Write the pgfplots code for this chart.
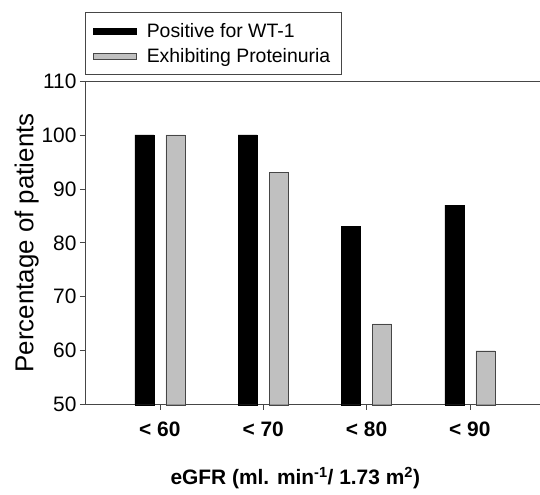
\documentclass[border=0pt]{standalone}
\usepackage{pgfplots}
\pgfplotsset{compat=1.18}
\usepackage{fontspec}
\setmainfont{Liberation Sans}
\definecolor{barGray}{RGB}{192,192,192}
\definecolor{axGray}{RGB}{70,70,70}
\begin{document}
\begin{tikzpicture}
\begin{axis}[
  width=455bp, height=324bp, scale only axis,
  xmin=-0.725, xmax=3.675, ymin=50, ymax=110,
  ybar=12bp, bar width=19bp,
  axis x line*=bottom, axis y line*=left,
  axis line style={axGray, line width=0.8pt},
  tick style={axGray, line width=0.7pt},
  tick align=outside, major tick length=5bp,
  xtick={0,1,2,3},
  xticklabels={< 60, < 70, < 80, < 90},
  ytick={50,60,...,110},
  x tick label style={font=\fontsize{21}{24}\selectfont\bfseries, yshift=-9bp},
  y tick label style={font=\fontsize{21}{24}\selectfont},
  /pgf/number format/assume math mode=true,
  xlabel={eGFR (ml. min\textsuperscript{-1}/ 1.73 m\textsuperscript{2})},
  xlabel style={font=\fontsize{21}{24}\selectfont\bfseries, xshift=-17bp, yshift=-23bp},
  ylabel={Percentage of patients},
  ylabel style={font=\fontsize{26}{30}\selectfont, yshift=-4bp},
  legend style={at={(rel axis cs:0,1)}, anchor=south west, yshift=6bp,
    draw=axGray, line width=0.6pt, font=\fontsize{19.5}{23}\selectfont,
    inner xsep=8bp, inner ysep=9bp, row sep=5bp, column sep=7bp,
    nodes={inner xsep=3bp}},
  legend cell align=left,
  legend image code/.code={\draw[#1] (0bp,-3bp) rectangle (43bp,3bp);},
  clip=false,
]
\addplot[fill=black, draw=black] coordinates {(0,100) (1,100) (2,83) (3,87)};
\addlegendentry{Positive for WT-1}
\addplot[fill=barGray, draw=axGray] coordinates {(0,100) (1,93) (2,65) (3,60)};
\addlegendentry{Exhibiting Proteinuria\hspace{6bp}}
\draw[axGray, line width=0.8pt] (rel axis cs:0,1) -- (rel axis cs:1,1);
\path ([xshift=-85bp,yshift=-90bp]rel axis cs:0,0) rectangle ([yshift=81bp]rel axis cs:1,1);
\end{axis}
\end{tikzpicture}
\end{document}
